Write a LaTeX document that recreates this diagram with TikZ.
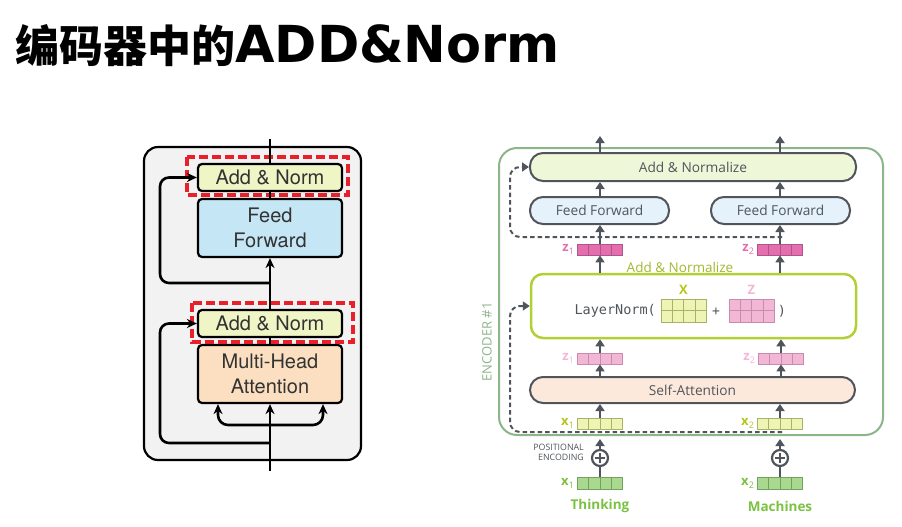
\documentclass[tikz,border=0pt]{standalone}
\usepackage{fontspec}
\setmainfont{Open Sans}
\newfontfamily\cjk{Noto Sans CJK SC}
\newfontfamily\dejav{DejaVu Sans}
\newfontfamily\helv{TeX Gyre Heros}
\newfontfamily\monof{DejaVu Sans Mono}
\usetikzlibrary{arrows.meta,calc}
\definecolor{dk}{HTML}{50555B}
\definecolor{encgreen}{HTML}{8DB58A}
\definecolor{annfill}{HTML}{EEF7D7}
\definecolor{fffill}{HTML}{E5F1FB}
\definecolor{safill}{HTML}{FDE9DC}
\definecolor{lngreen}{HTML}{B3CF36}
\definecolor{zpink}{HTML}{E56FAE}
\definecolor{zpinkd}{HTML}{B0558A}
\definecolor{lpink}{HTML}{F3B7D6}
\definecolor{lpinkd}{HTML}{C98CAE}
\definecolor{xyel}{HTML}{EEF5B4}
\definecolor{xyeld}{HTML}{A9B266}
\definecolor{xlab}{HTML}{B6C61C}
\definecolor{embg}{HTML}{A8D98E}
\definecolor{embgd}{HTML}{74A060}
\definecolor{emblab}{HTML}{7CC242}
\definecolor{lgray}{HTML}{F2F2F2}
\definecolor{lann}{HTML}{F0F5C6}
\definecolor{lff}{HTML}{C5E6F5}
\definecolor{lmha}{HTML}{FBDFC0}
\definecolor{redd}{HTML}{E8202A}
\tikzset{
  lbox/.style={draw=black, line width=2.2pt, rounded corners=4pt, minimum width=144pt, inner sep=0pt, align=center, font=\helv\fontsize{20}{25}\selectfont, text=black!80},
  lline/.style={draw=black, line width=2.6pt},
  larr/.style={lline, -{Stealth[length=10pt,width=9pt]}},
  redbox/.style={draw=redd, line width=3.5pt, dash pattern=on 9pt off 4pt},
  rbox/.style={draw=dk, line width=2pt, rounded corners=13pt, inner sep=0pt, font=\fontsize{13.7}{15}\selectfont, text=dk},
  rarr/.style={draw=dk, line width=2pt, -{Triangle[length=7pt,width=9pt]}},
  dashres/.style={draw=dk, line width=2pt, dash pattern=on 4.5pt off 3pt, rounded corners=10pt, -{Triangle[length=7pt,width=9pt]}},
  cellgrp/.style={draw=#1, line width=0.8pt, inner sep=0pt, minimum width=45pt, minimum height=11pt},
  lab/.style={font=\bfseries\fontsize{13}{13}\selectfont, anchor=east, inner sep=0pt}
}
\newcommand{\vdiv}[2]{\foreach \i in {1,2,3}{\draw[#2, line width=0.8pt] ($(#1.south west)!\i/4!(#1.south east)$) -- ($(#1.north west)!\i/4!(#1.north east)$);}}
\newcommand{\hdiv}[2]{\draw[#2, line width=0.8pt] (#1.west) -- (#1.east);}
\newcommand{\sublab}[2]{#1\raisebox{-3pt}{\fontsize{9}{9}\selectfont\mdseries #2}}
\begin{document}
\begin{tikzpicture}[x=1pt,y=-1pt]
\useasboundingbox[fill=white] (0,0) rectangle (902,527);
% Title
\node[anchor=west, inner sep=0pt] (title) at (15,46) {\cjk\bfseries\fontsize{44}{44}\selectfont 编码器中的{\dejav\bfseries\fontsize{51}{51}\selectfont ADD\&Norm}};

% ---------- Left diagram ----------
\draw[draw=black, fill=lgray, line width=2.2pt, rounded corners=14pt] (144,147) rectangle (361,460);
\node[lbox, fill=lann, minimum height=27pt] (an2) at (270,177.5) {Add \& Norm};
\node[lbox, fill=lff, minimum height=58pt] (ff) at (270,228) {Feed\\Forward};
\node[lbox, fill=lann, minimum height=27pt] (an1) at (270,323.5) {Add \& Norm};
\node[lbox, fill=lmha, minimum height=58pt] (mha) at (270,374) {Multi-Head\\Attention};
\draw[redbox] (187,157) rectangle (348,195);
\draw[redbox] (192,303) rectangle (353,342);
\coordinate (ltop) at (270,139);
\coordinate (lbot) at (270,471);
\coordinate (r1) at (270,443);
\coordinate (r2) at (270,283);
\coordinate (br) at (270,425);
\coordinate (lx) at (160,0);
\draw[lline] (ltop) -- (an2.north);
\draw[lline] (an2.south) -- (ff.north);
\draw[larr] (an1.north) -- (ff.south);
\draw[lline] (mha.north) -- (an1.south);
\draw[larr] (lbot) -- (mha.south);
\draw[larr, rounded corners=9pt] (r1) -- (r1 -| lx) -- (lx |- an1.west) -- (an1.west);
\draw[larr, rounded corners=9pt] (r2) -- (r2 -| lx) -- (lx |- an2.west) -- (an2.west);
\draw[larr, rounded corners=10pt] (br) -| ([xshift=-52pt]mha.south);
\draw[larr, rounded corners=10pt] (br) -| ([xshift=53pt]mha.south);

% ---------- Right diagram ----------
\draw[encgreen, line width=2pt, rounded corners=18pt] (499,148) rectangle (883,435);
\node[rotate=90, text=encgreen, font=\fontsize{13}{13}\selectfont] (enc) at (487,342) {ENCODER \#1};

\node[rbox, fill=annfill, minimum width=326pt, minimum height=28pt] (antop) at (693,167) {Add \& Normalize};
\node[rbox, fill=fffill, minimum width=139pt, minimum height=27pt] (ff1) at (599.5,210.5) {Feed Forward};
\node[rbox, fill=fffill, minimum width=139pt, minimum height=27pt] (ff2) at (780.5,210.5) {Feed Forward};
\node[draw=lngreen, line width=2.5pt, rounded corners=12pt, minimum width=325pt, minimum height=64pt, fill=white] (ln) at (693.5,306) {};
\node[rbox, fill=safill, minimum width=325pt, minimum height=26pt] (sa) at (692.5,390) {Self-Attention};

\node[text=lngreen!90!black, font=\fontsize{13.5}{13.5}\selectfont, inner sep=0pt] (anlab) at (680,267) {Add \& Normalize};

% cells
\node[cellgrp=zpinkd, fill=zpink] (z1t) at (600,249.5) {};
\node[cellgrp=zpinkd, fill=zpink] (z2t) at (780,249.5) {};
\node[cellgrp=lpinkd, fill=lpink] (z1l) at (600,358.5) {};
\node[cellgrp=lpinkd, fill=lpink] (z2l) at (781,358.5) {};
\node[cellgrp=xyeld, fill=xyel] (x1) at (600,423.5) {};
\node[cellgrp=xyeld, fill=xyel] (x2) at (780,423.5) {};
\node[cellgrp=embgd, fill=embg, minimum height=12pt] (e1) at (600,483) {};
\node[cellgrp=embgd, fill=embg, minimum height=12pt] (e2) at (780,483) {};
\node[cellgrp=xyeld, fill=xyel, minimum height=23pt] (mx) at (683.5,310.5) {};
\node[cellgrp=lpinkd, fill=lpink, minimum height=23pt] (mz) at (751.5,310.5) {};
\vdiv{z1t}{zpinkd}\vdiv{z2t}{zpinkd}
\vdiv{z1l}{lpinkd}\vdiv{z2l}{lpinkd}
\vdiv{x1}{xyeld}\vdiv{x2}{xyeld}
\vdiv{e1}{embgd}\vdiv{e2}{embgd}
\vdiv{mx}{xyeld}\hdiv{mx}{xyeld}
\vdiv{mz}{lpinkd}\hdiv{mz}{lpinkd}

% labels
\node[lab, text=zpink] (lz1t) at ([xshift=-3pt]z1t.west) {\sublab{z}{1}};
\node[lab, text=zpink] (lz2t) at ([xshift=-3pt]z2t.west) {\sublab{z}{2}};
\node[lab, text=lpink] (lz1l) at ([xshift=-3pt]z1l.west) {\sublab{z}{1}};
\node[lab, text=lpink] (lz2l) at ([xshift=-3pt]z2l.west) {\sublab{z}{2}};
\node[lab, text=xlab] (lx1) at ([xshift=-3pt]x1.west) {\sublab{x}{1}};
\node[lab, text=xlab] (lx2) at ([xshift=-3pt]x2.west) {\sublab{x}{2}};
\node[lab, text=emblab] (le1) at ([xshift=-3pt]e1.west) {\sublab{x}{1}};
\node[lab, text=emblab] (le2) at ([xshift=-3pt]e2.west) {\sublab{x}{2}};
\node[text=xlab, font=\bfseries\fontsize{13}{13}\selectfont, inner sep=0pt] (lX) at (683.5,290) {X};
\node[text=lpink, font=\bfseries\fontsize{13}{13}\selectfont, inner sep=0pt] (lZ) at (751.5,290) {Z};
\node[text=dk, font=\monof\fontsize{13.5}{13.5}\selectfont, anchor=east, inner sep=0pt] (lnt) at (656,311) {LayerNorm(};
\node[text=dk, font=\monof\fontsize{13}{13}\selectfont, inner sep=0pt] (plus) at (716,312) {+};
\node[text=dk, font=\monof\fontsize{13.5}{13.5}\selectfont, inner sep=0pt] (rpar) at (782,311) {)};

\node[text=emblab, font=\bfseries\fontsize{13.5}{14}\selectfont, inner sep=0pt] (w1) at (600,506) {Thinking};
\node[text=emblab, font=\bfseries\fontsize{13.5}{14}\selectfont, inner sep=0pt] (w2) at (780,506) {Machines};
\node[text=dk, font=\fontsize{8.8}{10}\selectfont, align=right, anchor=east, inner sep=0pt] (pe) at (584,452.5) {POSITIONAL\\ENCODING};

% plus circles
\node[draw=dk, line width=2.2pt, circle, minimum size=16pt, inner sep=0pt] (pc1) at (600,458) {};
\node[draw=dk, line width=2.2pt, circle, minimum size=16pt, inner sep=0pt] (pc2) at (780,458) {};
\foreach \c in {pc1,pc2}{
  \draw[dk, line width=2.2pt] ([xshift=-5pt]\c.center) -- ([xshift=5pt]\c.center);
  \draw[dk, line width=2.2pt] ([yshift=-5pt]\c.center) -- ([yshift=5pt]\c.center);
}

% arrows
\coordinate (o1) at (600,136);
\coordinate (o2) at (780,136);
\coordinate (p1) at (600,439);
\coordinate (p2) at (780,439);
\draw[rarr] (antop.north -| o1) -- (o1);
\draw[rarr] (antop.north -| o2) -- (o2);
\draw[rarr] (ff1.north -| o1) -- (o1 |- antop.south);
\draw[rarr] (ff2.north -| o2) -- (o2 |- antop.south);
\draw[rarr] (z1t.north) -- (z1t.north |- ff1.south);
\draw[rarr] (z2t.north) -- (z2t.north |- ff2.south);
\draw[rarr] (z1t.south |- ln.north) -- (z1t.south);
\draw[rarr] (z2t.south |- ln.north) -- (z2t.south);
\draw[rarr] (z1l.north) -- (z1l.north |- ln.south);
\draw[rarr] (z2l.north) -- (z2l.north |- ln.south);
\draw[rarr] (z1l.south |- sa.north) -- (z1l.south);
\draw[rarr] (z2l.south |- sa.north) -- (z2l.south);
\draw[rarr] (x1.north) -- (x1.north |- sa.south);
\draw[rarr] (x2.north) -- (x2.north |- sa.south);
\draw[rarr] (pc1.north) -- (p1);
\draw[rarr] (pc2.north) -- (p2);
\draw[dk, line width=2pt] (e1.north) -- (pc1.south);
\draw[dk, line width=2pt] (e2.north) -- (pc2.south);

% residual dashed
\coordinate (dc) at (510,0);
\coordinate (d1) at (782,237);
\coordinate (d2) at (782,432);
\draw[dashres] (d1) -- (d1 -| dc) -- (dc |- antop.west) -- (antop.west);
\draw[dashres] (d2) -- (d2 -| dc) -- (dc |- ln.west) -- (ln.west);
\end{tikzpicture}
\end{document}
